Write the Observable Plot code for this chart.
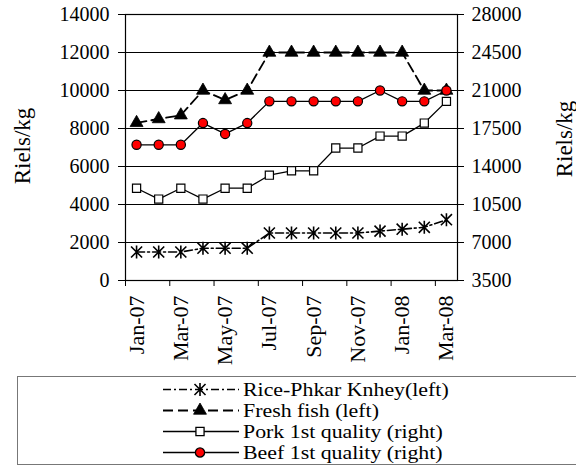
<!DOCTYPE html>
<html>
<head>
<meta charset="utf-8">
<script src="https://cdn.jsdelivr.net/npm/d3@7"></script>
<script src="https://cdn.jsdelivr.net/npm/@observablehq/plot@0.6"></script>
<style>
  html, body { margin: 0; padding: 0; background: #fff; }
  body { width: 576px; height: 466px; position: relative; overflow: hidden; font-family: "Liberation Serif", "DejaVu Serif", serif; }
  #chart svg, #chart svg text { font-family: "Liberation Serif", "DejaVu Serif", serif !important; }
  #legend { position: absolute; left: 17px; top: 376px; width: 600px; height: 89px; border: 1.5px solid #777; box-sizing: border-box; }
  .row { position: absolute; left: 0; height: 21px; white-space: nowrap; }
  .row svg { position: absolute; left: 0; top: 0; overflow: visible; }
  .row span { position: absolute; left: 80px; top: 0px; height: 21px; font-size: 19px; line-height: 21px; color: #000;
              font-family: "Liberation Serif", "DejaVu Serif", serif; transform: scaleX(1.15); transform-origin: 0 50%; }
</style>
</head>
<body>
<div id="chart"></div>
<div id="legend"></div>
<script>
// ---- data ----
const months = ["Jan-07","Feb-07","Mar-07","Apr-07","May-07","Jun-07","Jul-07","Aug-07","Sep-07","Oct-07","Nov-07","Dec-07","Jan-08","Feb-08","Mar-08"];
const rice = [1500,1500,1500,1700,1700,1700,2500,2500,2500,2500,2500,2600,2700,2800,3200];   // left axis
const fish = [8300,8500,8700,10000,9500,10000,12000,12000,12000,12000,12000,12000,12000,10000,10000]; // left axis
const pork = [12000,11000,12000,11000,12000,12000,13200,13600,13600,15700,15700,16800,16800,18000,20000]; // right axis
const beef = [16000,16000,16000,18000,17000,18000,20000,20000,20000,20000,20000,21000,20000,20000,21000]; // right axis
const leftTicks = [0,2000,4000,6000,8000,10000,12000,14000];
const rightTicks = [3500,7000,10500,14000,17500,21000,24500,28000];
const xLabelMonths = ["Jan-07","Mar-07","May-07","Jul-07","Sep-07","Nov-07","Jan-08","Mar-08"];
const seriesNames = ["Rice-Phkar Knhey(left)","Fresh fish (left)","Pork 1st quality (right)","Beef 1st quality (right)"];
const yLabel = "Riels/kg";

// right axis -> left axis mapping
const R0 = rightTicks[0], R1 = rightTicks[rightTicks.length-1];
const L0 = leftTicks[0], L1 = leftTicks[leftTicks.length-1];
const toLeft = v => L0 + (v - R0) * (L1 - L0) / (R1 - R0);
const toRight = v => R0 + (v - L0) * (R1 - R0) / (L1 - L0);

const idx = months.map((m, i) => i);
const xLabelIdx = xLabelMonths.map(m => months.indexOf(m));
const xBoundaries = xLabelIdx.map(i => i - 0.5);

// Star marker (X with vertical bar), as in the original
const star = {
  draw(ctx, size) {
    const r = Math.sqrt(size / Math.PI);
    const a = r * 0.85;
    ctx.moveTo(-a, -a); ctx.lineTo(a, a);
    ctx.moveTo(-a, a); ctx.lineTo(a, -a);
    ctx.moveTo(0, -r); ctx.lineTo(0, r);
  }
};

const riceDash = "8,3,2,3";
const fishDash = "10,5";
const serif = "'Liberation Serif', 'DejaVu Serif', serif";

const chart = Plot.plot({
  width: 576,
  height: 375,
  marginLeft: 125,
  marginRight: 119,
  marginTop: 14,
  marginBottom: 95,
  style: { fontFamily: serif, fontSize: "20px", color: "#000", background: "#fff" },
  x: { domain: [-0.5, months.length - 0.5], axis: null },
  y: { domain: [L0, L1], axis: null },
  marks: [
    Plot.gridY(leftTicks, { stroke: "#000", strokeOpacity: 1, strokeWidth: 1 }),
    Plot.frame({ stroke: "#000", strokeWidth: 1.2 }),
    Plot.axisY(leftTicks, { anchor: "left", tickSize: 7, tickPadding: 9, label: null, fontSize: 20, tickFormat: d => String(d) }),
    Plot.axisY(leftTicks, { anchor: "right", tickSize: 6, tickPadding: 8, label: null, fontSize: 20, tickFormat: d => String(Math.round(toRight(d))) }),
    Plot.axisX(xBoundaries, { anchor: "bottom", tickSize: 6, tickFormat: () => "", label: null }),
    Plot.axisX(xLabelIdx, { anchor: "bottom", tickSize: 0, tickPadding: 15, tickRotate: -90, label: null, fontSize: 22, tickFormat: i => months[i] }),
    // lines
    Plot.line(idx, { x: i => i, y: i => rice[i], stroke: "#000", strokeWidth: 1.6, strokeDasharray: riceDash }),
    Plot.line(idx, { x: i => i, y: i => fish[i], stroke: "#000", strokeWidth: 1.8, strokeDasharray: fishDash }),
    Plot.line(idx, { x: i => i, y: i => toLeft(pork[i]), stroke: "#000", strokeWidth: 1.3 }),
    Plot.line(idx, { x: i => i, y: i => toLeft(beef[i]), stroke: "#000", strokeWidth: 1.3 }),
    // markers
    Plot.dot(idx, { x: i => i, y: i => rice[i], symbol: star, r: 6.5, stroke: "#000", strokeWidth: 1.6, fill: "none" }),
    Plot.dot(idx, { x: i => i, y: i => fish[i], symbol: "triangle", r: 4.8, fill: "#000", stroke: "#000", strokeWidth: 0.8 }),
    Plot.dot(idx, { x: i => i, y: i => toLeft(pork[i]), symbol: "square", r: 4.6, fill: "#fff", stroke: "#000", strokeWidth: 1.2 }),
    Plot.dot(idx, { x: i => i, y: i => toLeft(beef[i]), symbol: "circle", r: 4.6, fill: "#ff0000", stroke: "#000", strokeWidth: 1.2 })
  ]
});

document.getElementById("chart").appendChild(chart);

// Axis titles (both rotated)
const svg = d3.select(chart);
svg.append("text").attr("transform", "translate(30,146) rotate(-90)")
  .attr("text-anchor", "middle").attr("font-size", 23).attr("fill", "#000").text(yLabel);
svg.append("text").attr("transform", "translate(572,139) rotate(-90)")
  .attr("text-anchor", "middle").attr("font-size", 23).attr("fill", "#000").text(yLabel);

// Legend
const legendStyles = [
  { dash: riceDash, sw: 1.6, symbol: star, size: Math.PI * 6.5 * 6.5, fill: "none", stroke: "#000" },
  { dash: fishDash, sw: 1.8, symbol: d3.symbolTriangle, size: Math.PI * 4.8 * 4.8, fill: "#000", stroke: "#000" },
  { dash: null, sw: 1.3, symbol: d3.symbolSquare, size: Math.PI * 4.6 * 4.6, fill: "#fff", stroke: "#000" },
  { dash: null, sw: 1.3, symbol: d3.symbolCircle, size: Math.PI * 4.6 * 4.6, fill: "#ff0000", stroke: "#000" }
];
const rowCenters = [390, 411, 432, 453];
const legendLeft = 17, legendTop = 376;
const legend = d3.select("#legend");
seriesNames.forEach((name, k) => {
  const st = legendStyles[k];
  const row = legend.append("div").attr("class", "row")
    .style("left", (163 - legendLeft - 1.5) + "px")
    .style("top", (rowCenters[k] - legendTop - 1.5 - 10.5) + "px");
  const s = row.append("svg").attr("width", 76).attr("height", 21);
  s.append("line").attr("x1", 0).attr("x2", 76).attr("y1", 10.5).attr("y2", 10.5)
    .attr("stroke", "#000").attr("stroke-width", st.sw)
    .attr("stroke-dasharray", st.dash);
  s.append("path").attr("transform", "translate(37,10.5)")
    .attr("d", d3.symbol(st.symbol, st.size)())
    .attr("fill", st.fill).attr("stroke", st.stroke).attr("stroke-width", st.sw === 1.8 ? 0.8 : st.sw);
  row.append("span").text(name);
});
</script>
</body>
</html>
